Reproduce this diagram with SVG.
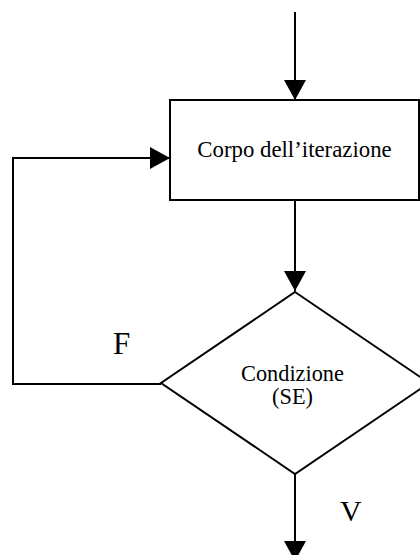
<svg xmlns="http://www.w3.org/2000/svg" width="420" height="555" viewBox="0 0 420 555">
<style>
.shape{fill:#fff;stroke:#000;stroke-width:2}
.conn{fill:none;stroke:#000;stroke-width:2}
.lbl{font-family:"Liberation Serif","Times New Roman",serif;fill:#000}
</style>
<defs>
<marker id="arrow" viewBox="0 0 20 22" refX="20" refY="11" markerWidth="20" markerHeight="22" markerUnits="userSpaceOnUse" orient="auto">
<path d="M0,0 L20,11 L0,22 z" fill="#000"/>
</marker>
</defs>
<rect width="420" height="555" fill="#fff"/>
<g id="connectors">
<path class="conn" d="M295,12 V100" marker-end="url(#arrow)"/>
<path class="conn" d="M295,200 V291" marker-end="url(#arrow)"/>
<path class="conn" d="M295,474 V561" marker-end="url(#arrow)"/>
<path class="conn" d="M161,384 H13 V158 H170" marker-end="url(#arrow)"/>
<text class="lbl" x="113" y="354" font-size="31">F</text>
<text class="lbl" x="340" y="521" font-size="30">V</text>
</g>
<g id="corpo">
<rect class="shape" x="170" y="100" width="249" height="100"/>
<text class="lbl" x="294.5" y="157" font-size="22.8" text-anchor="middle">Corpo dell’iterazione</text>
</g>
<g id="condizione">
<polygon class="shape" points="295,292 429,383 295,474 161,383"/>
<text class="lbl" x="292.5" y="380.5" font-size="22.3" text-anchor="middle">Condizione</text>
<text class="lbl" x="292.5" y="404" font-size="22.3" text-anchor="middle">(SE)</text>
</g>
</svg>
